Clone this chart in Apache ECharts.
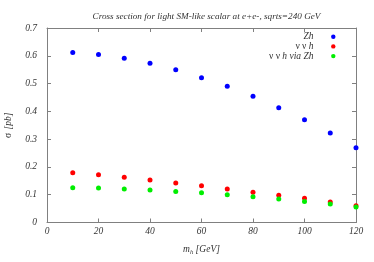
<!DOCTYPE html>
<html><head><meta charset="utf-8">
<script src="https://cdn.jsdelivr.net/npm/echarts@6/dist/echarts.min.js"></script>
<style>html,body{margin:0;padding:0;background:#fff}#c{width:374px;height:262px}</style>
</head><body><div id="c"></div>
<script>
const massH = [10,20,30,40,50,60,70,80,90,100,110,120];
const sigmaZh = [0.612,0.605,0.591,0.573,0.550,0.521,0.490,0.454,0.413,0.370,0.322,0.269];
const sigmaNuNuH = [0.179,0.172,0.163,0.153,0.142,0.132,0.121,0.109,0.098,0.087,0.074,0.060];
const sigmaNuNuHviaZh = [0.125,0.124,0.121,0.117,0.112,0.107,0.100,0.093,0.085,0.076,0.067,0.056];
const seriesNames = ['Zh','ν ν h','ν ν h via Zh'];
const seriesColors = ['#0000ff','#ff0000','#00ee00'];
const titleText = 'Cross section for light SM-like scalar at e+e-, sqrts=240 GeV';

const FONT = 'Liberation Serif';
const TXT = '#333';
const pairs = a => massH.map((m,i)=>[m,a[i]]);
const chart = echarts.init(document.getElementById('c'), null, {renderer:'canvas'});
const axisCommon = {
  axisLine:{show:true,onZero:false,lineStyle:{color:'#808080',width:1}},
  axisTick:{show:true,inside:true,length:4,lineStyle:{color:'#808080'}},
  splitLine:{show:false}
};
const richLeg = {
  n:{fontFamily:FONT,fontSize:9.5,color:TXT},
  i:{fontFamily:FONT,fontStyle:'italic',fontSize:9.5,color:TXT}
};
const legRich = n => n.startsWith('ν') ? '{n|ν ν }{i|' + n.slice(4) + '}' : '{i|' + n + '}';
const legendG = [];
seriesNames.forEach((n,i)=>{
  const y = 36.7 + i*9.7;
  legendG.push({type:'text',x:313.5,y:y,style:{text:legRich(n),rich:richLeg,fill:TXT,textAlign:'right',textVerticalAlign:'middle'}});
  legendG.push({type:'circle',shape:{cx:333.3,cy:y,r:2.2},style:{fill:seriesColors[i]}});
});
chart.setOption({
  animation:false,
  title:{text:titleText,left:201.5,textAlign:'center',top:7,textStyle:{fontFamily:FONT,fontStyle:'italic',fontWeight:'normal',fontSize:9.2,color:TXT}},
  grid:{left:47,right:18,top:28,bottom:39.5,containLabel:false,outerBoundsMode:'none'},
  xAxis:[
    Object.assign({type:'value',min:0,max:120,interval:20,position:'bottom',
      name:'{i|m}{s|h}{i| [GeV]}',nameLocation:'middle',nameGap:20,
      nameTextStyle:{rich:{i:{fontFamily:FONT,fontStyle:'italic',fontSize:9.5,color:TXT},s:{fontFamily:FONT,fontStyle:'italic',fontSize:6.5,color:TXT,verticalAlign:'bottom',padding:[6,0,0,0]}}},
      axisLabel:{fontFamily:FONT,fontStyle:'italic',fontSize:9.5,color:TXT,margin:4}},axisCommon),
    Object.assign({type:'value',min:0,max:120,interval:20,position:'top',axisLabel:{show:false}},axisCommon)
  ],
  yAxis:[
    Object.assign({type:'value',min:0,max:0.7,interval:0.1,position:'left',
      name:'{n|σ} {i|[pb]}',nameLocation:'middle',nameGap:32,
      nameTextStyle:{rich:richLeg},
      axisLabel:{fontFamily:FONT,fontStyle:'italic',fontSize:9.5,color:TXT,margin:10,formatter:v=>v===0?'0':v.toFixed(1)}},axisCommon),
    Object.assign({type:'value',min:0,max:0.7,interval:0.1,position:'right',axisLabel:{show:false}},axisCommon)
  ],
  series:[sigmaZh,sigmaNuNuH,sigmaNuNuHviaZh].map((d,i)=>({
    name:seriesNames[i],type:'scatter',data:pairs(d),symbol:'circle',symbolSize:5,
    itemStyle:{color:seriesColors[i],opacity:1},xAxisIndex:0,yAxisIndex:0
  })),
  graphic:legendG
});
</script></body></html>
